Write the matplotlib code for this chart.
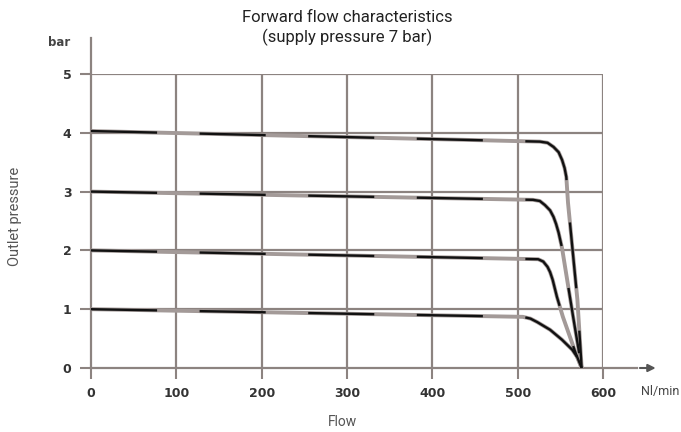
import matplotlib
matplotlib.use("Agg")
import matplotlib.pyplot as plt
import numpy as np

# Data (flow Nl/min, outlet pressure bar)
flow_4 = [0, 526, 535, 542, 548, 552, 555, 557, 559, 564, 570, 575]
pres_4 = [4.03, 3.85, 3.83, 3.76, 3.67, 3.54, 3.40, 3.25, 2.81, 2.06, 1.16, 0.0]
flow_3 = [0, 518, 526, 532, 538, 542, 545, 548, 552, 558, 565, 575]
pres_3 = [3.0, 2.86, 2.84, 2.77, 2.68, 2.57, 2.45, 2.30, 2.04, 1.50, 0.87, 0.0]
flow_2 = [0, 524, 530, 535, 538, 541, 546, 553, 562, 568, 575]
pres_2 = [2.0, 1.85, 1.81, 1.72, 1.63, 1.50, 1.21, 0.87, 0.50, 0.25, 0.0]
flow_1 = [0, 506, 515, 523, 538, 552, 564, 570, 575]
pres_1 = [1.0, 0.87, 0.84, 0.78, 0.65, 0.48, 0.31, 0.18, 0.0]

x_ticks = [0, 100, 200, 300, 400, 500, 600]
y_ticks = [0, 1, 2, 3, 4, 5]

W, H = 681, 432
fig = plt.figure(figsize=(W / 100, H / 100), dpi=100)
ax = fig.add_axes([91 / W, (H - 368) / H, (603 - 91) / W, (368 - 74) / H])
ax.set_xlim(0, 600)
ax.set_ylim(0, 5)
for s in ax.spines.values():
    s.set_visible(False)

grid_c = "#8c8380"
for xv in x_ticks[1:]:
    ax.plot([xv, xv], [0, 5], color=grid_c, lw=1.6, zorder=1, solid_capstyle="butt")
for yv in y_ticks[1:]:
    ax.plot([0, 600], [yv, yv], color=grid_c, lw=1.6, zorder=1, solid_capstyle="butt")
# left axis extended upward
ax.plot([0, 0], [0, 5.62], color=grid_c, lw=1.6, zorder=1, clip_on=False)
# bottom axis extended to the right with arrow
ax.plot([0, 640], [0, 0], color=grid_c, lw=1.6, zorder=1, clip_on=False)
ax.annotate("", xy=(665, 0), xytext=(640, 0),
            arrowprops=dict(arrowstyle="-|>", color="#555", lw=1.5, mutation_scale=11),
            annotation_clip=False)

ax.set_xticks(x_ticks)
ax.set_yticks(y_ticks)
ax.tick_params(axis="both", length=8, width=1.5, color=grid_c, direction="out",
               labelsize=9, labelcolor="#333", pad=6)
for lab in ax.get_xticklabels() + ax.get_yticklabels():
    lab.set_fontweight("bold")

for fx, py in [(flow_4, pres_4), (flow_3, pres_3), (flow_2, pres_2), (flow_1, pres_1)]:
    ax.plot(fx, py, color="#a39a98", lw=2.8, zorder=2, solid_capstyle="butt",
            solid_joinstyle="round")
    ax.plot(fx, py, color="#111111", lw=1.7, zorder=3, dashes=(28, 18),
            dash_joinstyle="round")

fig.text(347 / W, 1 - 18 / H, "Forward flow characteristics", ha="center", va="center",
         fontsize=12, color="#222", family="Roboto")
fig.text(347 / W, 1 - 37 / H, "(supply pressure 7 bar)", ha="center", va="center",
         fontsize=12, color="#222", family="Roboto")
fig.text(59 / W, 1 - 42 / H, "bar", ha="center", va="center", fontsize=8.5,
         fontweight="bold", color="#444")
fig.text(641 / W, 1 - 391 / H, "Nl/min", ha="left", va="center", fontsize=9,
         color="#444", family="Roboto")
fig.text(342 / W, 1 - 422 / H, "Flow", ha="center", va="center", fontsize=10,
         color="#555", family="Roboto")
fig.text(15 / W, 1 - 216 / H, "Outlet pressure", ha="center", va="center", fontsize=10.5,
         color="#555", rotation=90, family="Roboto")

fig.savefig("out.png", dpi=100)
